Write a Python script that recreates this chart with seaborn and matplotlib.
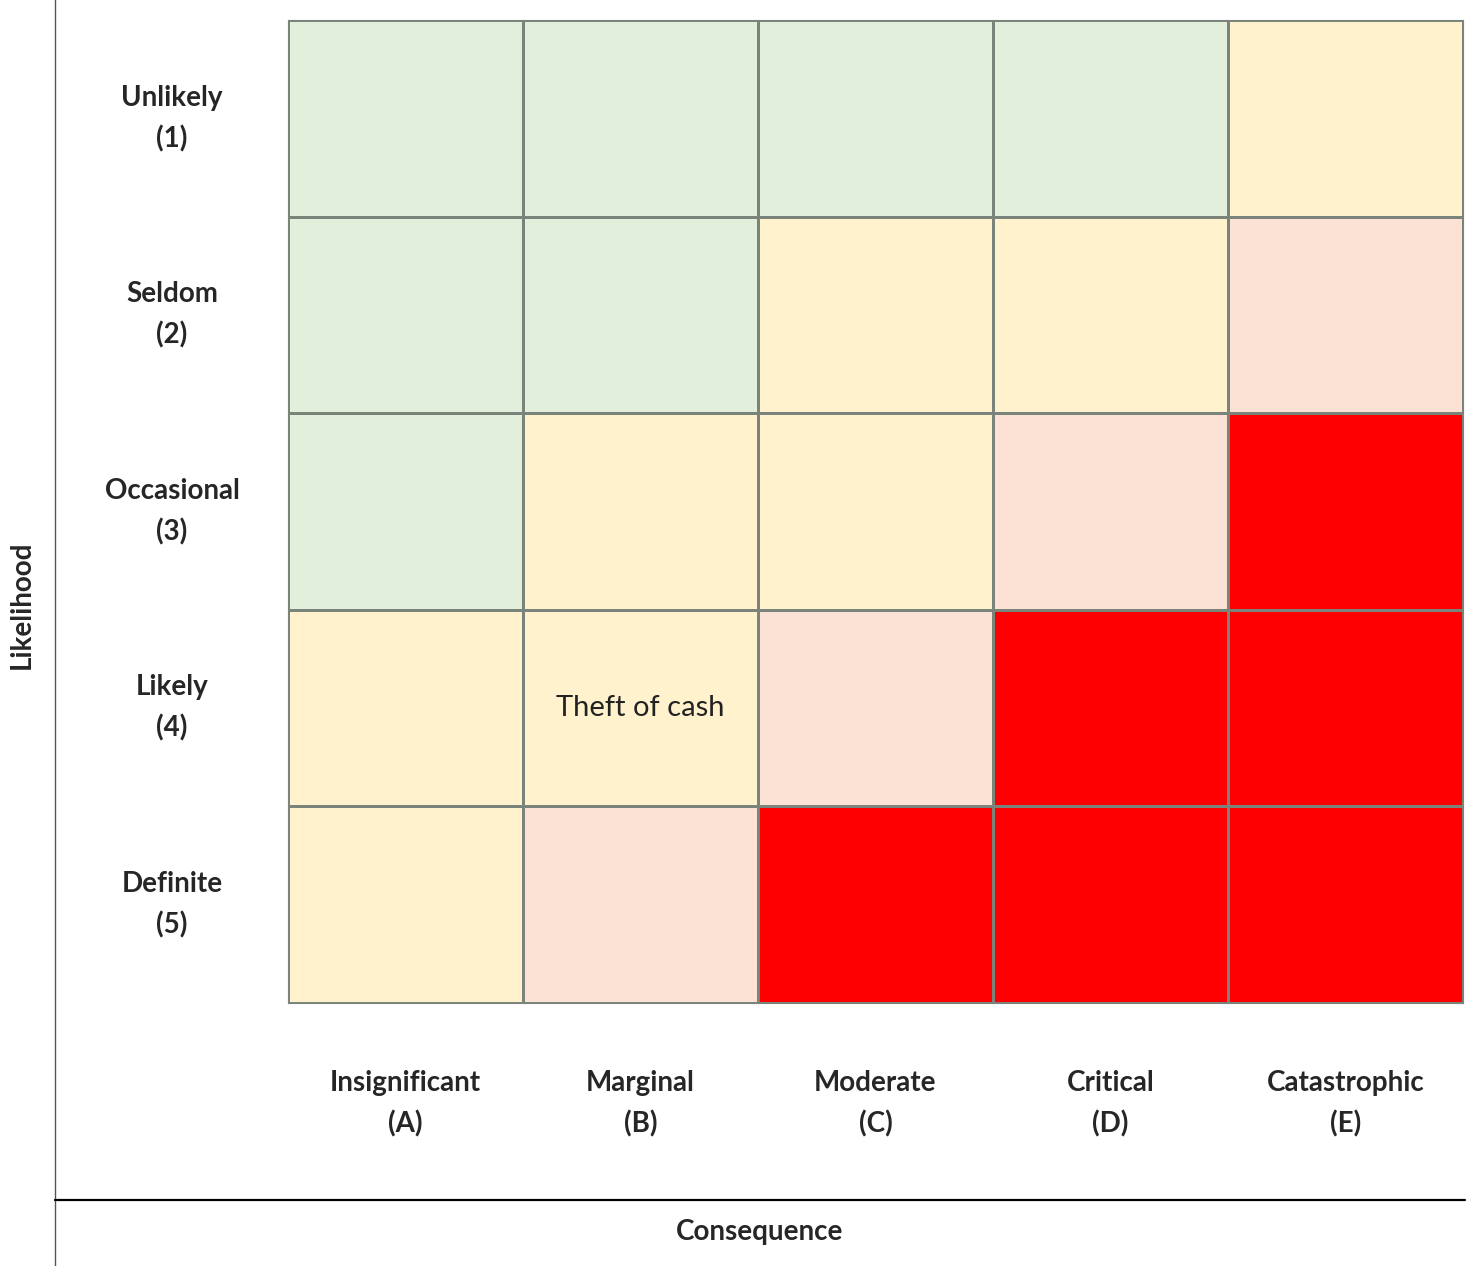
import numpy as np
import pandas as pd
import seaborn as sns
import matplotlib
matplotlib.use("Agg")
import matplotlib.pyplot as plt
from matplotlib.colors import ListedColormap
from matplotlib.lines import Line2D

likelihood = ["Unlikely\n(1)", "Seldom\n(2)", "Occasional\n(3)", "Likely\n(4)", "Definite\n(5)"]
consequence = ["Insignificant\n(A)", "Marginal\n(B)", "Moderate\n(C)", "Critical\n(D)", "Catastrophic\n(E)"]

# risk level per cell: 0 low (green), 1 medium (yellow), 2 high (pink), 3 extreme (red)
risk_levels = [
    [0, 0, 0, 0, 1],
    [0, 0, 1, 1, 2],
    [0, 1, 1, 2, 3],
    [1, 1, 2, 3, 3],
    [1, 2, 3, 3, 3],
]
cell_notes = [
    ["", "", "", "", ""],
    ["", "", "", "", ""],
    ["", "", "", "", ""],
    ["", "Theft of cash", "", "", ""],
    ["", "", "", "", ""],
]
level_colors = ["#E2EFDA", "#FFF2CC", "#FBE2D5", "#FF0000"]

df = pd.DataFrame(risk_levels, index=likelihood, columns=consequence)

sns.set_style("white")
plt.rcParams['font.family'] = ['Lato', 'DejaVu Sans']

fig = plt.figure(figsize=(14.7, 12.66), dpi=100)
W, H = 1470, 1266
ax = fig.add_axes([288 / W, (H - 1003) / H, 1175 / W, 983 / H])

sns.heatmap(df, ax=ax, cmap=ListedColormap(level_colors), vmin=-0.5, vmax=3.5,
            annot=np.array(cell_notes), fmt="", cbar=False,
            linewidths=0.8, linecolor="#7A847A",
            annot_kws={"fontsize": 21, "color": "#222222"})

for s in ax.spines.values():
    s.set_visible(True)
    s.set_color("#7A847A")
    s.set_linewidth(0.8)

ax.set_xlabel("")
ax.set_ylabel("")
ax.tick_params(axis="both", length=0)
ax.set_yticklabels(likelihood, rotation=0, ha="center", va="center",
                   fontsize=20, fontweight="bold", linespacing=1.65)
ax.set_xticklabels(consequence, rotation=0, ha="center", va="center",
                   fontsize=20, fontweight="bold", linespacing=1.65)
ax.tick_params(axis="y", pad=116 * 0.72)
ax.tick_params(axis="x", pad=101 * 0.72)

# frame lines and outer titles
fig.add_artist(Line2D([55 / W, 55 / W], [0, 1], color="#555555", lw=1.0))
fig.add_artist(Line2D([55 / W, 1465 / W], [(H - 1200) / H] * 2, color="black", lw=1.6))
fig.text(22 / W, (H - 605) / H, "Likelihood", rotation=90, ha="center", va="center",
         fontsize=20, fontweight="bold")
fig.text(760 / W, (H - 1232) / H, "Consequence", ha="center", va="center",
         fontsize=20, fontweight="bold")

plt.savefig("out.png", dpi=100)
